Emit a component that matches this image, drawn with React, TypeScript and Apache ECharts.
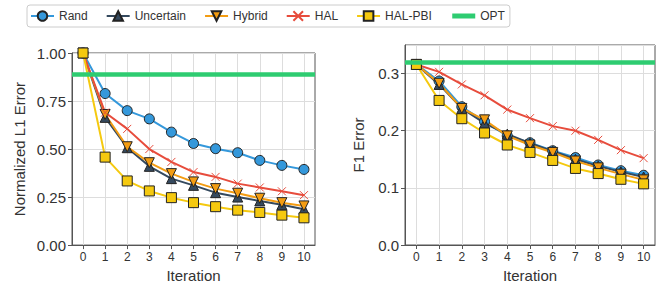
import React, { useEffect, useRef } from "react";
import * as echarts from "echarts";

const iterations = ["0", "1", "2", "3", "4", "5", "6", "7", "8", "9", "10"];

// Left panel: Normalized L1 Error
const l1Rand = [1.0, 0.789, 0.7, 0.657, 0.588, 0.529, 0.502, 0.481, 0.441, 0.415, 0.394];
const l1Uncertain = [1.0, 0.665, 0.507, 0.41, 0.346, 0.311, 0.273, 0.25, 0.23, 0.21, 0.187];
const l1Hybrid = [1.0, 0.68, 0.512, 0.429, 0.372, 0.329, 0.294, 0.27, 0.244, 0.221, 0.204];
const l1HAL = [1.0, 0.69, 0.605, 0.5, 0.433, 0.38, 0.355, 0.32, 0.3, 0.28, 0.26];
const l1HALPBI = [1.0, 0.458, 0.334, 0.282, 0.247, 0.221, 0.2, 0.182, 0.17, 0.156, 0.142];
const l1OPT = 0.893;

// Right panel: F1 Error
const f1Rand = [0.316, 0.287, 0.242, 0.216, 0.191, 0.179, 0.165, 0.153, 0.14, 0.13, 0.122];
const f1Uncertain = [0.316, 0.281, 0.239, 0.213, 0.194, 0.178, 0.164, 0.15, 0.138, 0.128, 0.119];
const f1Hybrid = [0.316, 0.283, 0.239, 0.219, 0.191, 0.175, 0.162, 0.147, 0.135, 0.124, 0.114];
const f1HAL = [0.316, 0.303, 0.281, 0.262, 0.237, 0.222, 0.208, 0.2, 0.184, 0.166, 0.152];
const f1HALPBI = [0.316, 0.253, 0.221, 0.196, 0.175, 0.162, 0.148, 0.134, 0.125, 0.115, 0.107];
const f1OPT = 0.321;

const leftTicks = [0, 0.25, 0.5, 0.75, 1.0];
const rightTicks = [0, 0.1, 0.2, 0.3];

const FONT = "Liberation Sans";
const EDGE = "#222";

const methods = [
  { name: "Rand", color: "#3498db", symbol: "circle", size: 10, rotate: 0, left: l1Rand, right: f1Rand },
  { name: "Uncertain", color: "#34495e", symbol: "triangle", size: 10, rotate: 0, left: l1Uncertain, right: f1Uncertain },
  { name: "Hybrid", color: "#f39c12", symbol: "triangle", size: 10, rotate: 180, left: l1Hybrid, right: f1Hybrid },
  { name: "HAL", color: "#e74c3c", symbol: "path://M0,0L10,10M10,0L0,10", size: 8, rotate: 0, left: l1HAL, right: f1HAL },
  { name: "HAL-PBI", color: "#f5c90f", symbol: "rect", size: 10, rotate: 0, left: l1HALPBI, right: f1HALPBI },
];

export default function App() {
  const ref = useRef<HTMLDivElement>(null);
  useEffect(() => {
    if (!ref.current) return;
    document.body.style.margin = "0";
    const chart = echarts.init(ref.current, null, { renderer: "svg" });

    const xAxisBase = (gridIndex: number) => ({
      type: "category",
      gridIndex,
      data: iterations,
      boundaryGap: true,
      name: "Iteration",
      nameLocation: "middle",
      nameGap: 21,
      nameTextStyle: { fontFamily: FONT, fontSize: 15, color: "#333" },
      axisLine: { show: true, lineStyle: { color: "#555", width: 1 } },
      axisTick: { show: true, alignWithLabel: true, length: 4, lineStyle: { color: "#555" } },
      axisLabel: { fontFamily: FONT, fontSize: 12, color: "#333", margin: 6, interval: 0 },
      splitLine: { show: true, alignWithLabel: true, lineStyle: { color: "#ddd", width: 1 } },
    });

    const yAxisBase = (gridIndex: number, name: string, max: number, interval: number, digits: number, gap: number) => ({
      type: "value",
      gridIndex,
      min: 0,
      max,
      interval,
      name,
      nameLocation: "middle",
      nameGap: gap,
      nameTextStyle: { fontFamily: FONT, fontSize: 15, color: "#333" },
      axisLine: { show: true, lineStyle: { color: "#555", width: 1 } },
      axisTick: { show: true, length: 4, lineStyle: { color: "#555" } },
      axisLabel: {
        fontFamily: FONT,
        fontSize: 15,
        color: "#333",
        margin: 6,
        showMaxLabel: digits === 2,
        formatter: (v: number) => v.toFixed(digits),
      },
      splitLine: { show: true, lineStyle: { color: "#ddd", width: 1 } },
    });

    const series: any[] = [];
    [0, 1].forEach((gi) => {
      methods.forEach((m) => {
        series.push({
          type: "line",
          name: m.name,
          xAxisIndex: gi,
          yAxisIndex: gi,
          data: gi === 0 ? m.left : m.right,
          symbol: m.symbol,
          symbolSize: m.size,
          symbolRotate: m.rotate,
          showAllSymbol: true,
          lineStyle: { color: m.color, width: 2 },
          itemStyle:
            m.name === "HAL"
              ? { color: m.color, borderColor: m.color, borderWidth: 1 }
              : { color: m.color, borderColor: EDGE, borderWidth: 1 },
          emphasis: { disabled: true },
        });
      });
      series.push({
        type: "line",
        name: "OPT",
        xAxisIndex: gi,
        yAxisIndex: gi,
        data: [],
        symbol: "none",
        lineStyle: { color: "#2ecc71", width: 4.5 },
        itemStyle: { color: "#2ecc71", opacity: 0 },
        z: 1,
        markLine: {
          silent: true,
          symbol: "none",
          label: { show: false },
          lineStyle: { color: "#2ecc71", width: 4.5, type: "solid", opacity: 1 },
          data: [{ yAxis: gi === 0 ? l1OPT : f1OPT }],
        },
      });
    });

    chart.setOption({
      animation: false,
      backgroundColor: "#fff",
      legend: {
        left: 27,
        top: 5,
        padding: [5, 5, 5, 3],
        itemWidth: 23,
        itemHeight: 12,
        itemGap: 18,
        borderColor: "#ccc",
        borderWidth: 1,
        borderRadius: 3,
        textStyle: { fontFamily: FONT, fontSize: 12, color: "#333" },
        data: [
          "Rand",
          "Uncertain",
          "Hybrid",
          "HAL",
          "HAL-PBI",
          { name: "OPT", lineStyle: { width: 5, color: "#2ecc71" } },
        ],
      },
      grid: [
        { left: 72, right: 353, top: 53, bottom: 42, show: true, borderColor: "#555", borderWidth: 1 },
        { left: 405, right: 13, top: 45, bottom: 43, show: true, borderColor: "#555", borderWidth: 1 },
      ],
      xAxis: [xAxisBase(0), xAxisBase(1)],
      yAxis: [
        yAxisBase(0, "Normalized L1 Error", leftTicks[leftTicks.length - 1], leftTicks[1] - leftTicks[0], 2, 45),
        yAxisBase(1, "F1 Error", 0.35, rightTicks[1] - rightTicks[0], 1, 39),
      ],
      series,
    });
    return () => chart.dispose();
  }, []);
  return <div ref={ref} style={{ width: 668, height: 288 }} />;
}
